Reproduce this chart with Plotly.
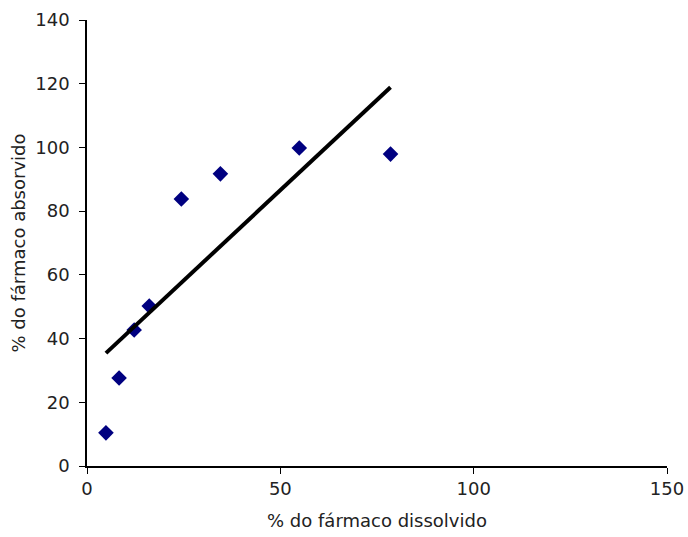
import numpy as np
import plotly.graph_objects as go

dissolvido = [4.9, 8.3, 12.2, 16.1, 24.4, 34.5, 54.9, 78.5]
absorvido = [10.4, 27.6, 42.7, 50.2, 83.8, 91.7, 99.8, 97.9]
x_title = "% do fármaco dissolvido"
y_title = "% do fármaco absorvido"

slope, intercept = np.polyfit(dissolvido, absorvido, 1)
xl = [min(dissolvido), max(dissolvido)]
yl = [slope * v + intercept for v in xl]

fig = go.Figure()
fig.add_trace(go.Scatter(x=dissolvido, y=absorvido, mode="markers",
                         marker=dict(symbol="diamond", size=12, color="#000080"),
                         showlegend=False))
fig.add_trace(go.Scatter(x=xl, y=yl, mode="lines",
                         line=dict(color="black", width=4), showlegend=False))

font = dict(family="DejaVu Sans, Liberation Sans, Arial, sans-serif", size=18, color="#222")
fig.update_layout(
    width=688, height=537,
    margin=dict(l=87, r=21, t=20, b=71),
    plot_bgcolor="white", paper_bgcolor="white",
    font=font,
    xaxis=dict(range=[0, 150], tickvals=[0, 50, 100, 150], showgrid=False, zeroline=False,
               showline=True, linecolor="black", linewidth=1.5, ticks="outside",
               ticklen=6, tickcolor="black", automargin=False,
               title=dict(text=x_title, font=dict(size=18), standoff=16)),
    yaxis=dict(range=[0, 140], tickvals=list(range(0, 141, 20)), showgrid=False, zeroline=False,
               showline=True, linecolor="black", linewidth=1.5, ticks="outside",
               ticklen=6, tickcolor="black", automargin=False, ticklabelstandoff=6,
               title=dict(text=y_title, font=dict(size=18), standoff=5)),
)
fig.write_html("out.html")
